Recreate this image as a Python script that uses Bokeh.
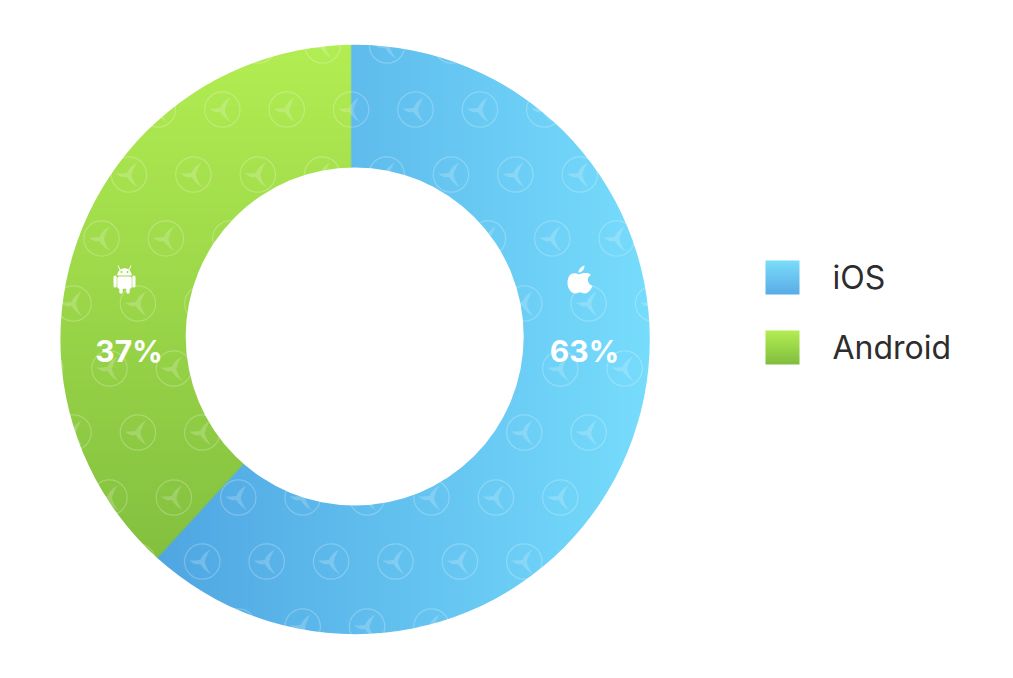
import numpy as np
from bokeh.plotting import figure
from bokeh.models import Range1d
from bokeh.core.properties import value
from bokeh.embed import file_html
from bokeh.resources import INLINE

# --- data ---
categories = ["iOS", "Android"]
labels = ["63%", "37%"]
# arc sizes as measured on the ring (the drawn split is slightly off the printed labels)
arc_shares = [61.8, 38.2]

# --- styling ---
IOS_GRAD = ((79, 166, 226), (118, 220, 252))       # left -> right
AND_GRAD = ((178, 237, 82), (131, 192, 63))        # top -> bottom
LEG_IOS = ((122, 220, 250), (90, 172, 230))
LEG_AND = ((178, 237, 82), (130, 190, 63))
MEAN = ["#64BEEE", "#9CD850"]
FONT = "Inter"
TEXT_COL = "#2d2d2d"
BASE_SHIFT = 12   # lifts the text glyphs onto the reference baselines

# page pixel -> plot coordinate (plot y points up)
W, H = 1000, 670
def Y(py):
    return 678 - np.asarray(py, dtype=float)

p = figure(width=W, height=H, x_range=Range1d(0, W), y_range=Range1d(678 - H, 678),
           output_backend="svg", toolbar_location=None, min_border=0,
           background_fill_color="white", border_fill_color="white", outline_line_color=None)
p.axis.visible = False
p.grid.visible = False

# ring geometry (reference pixels)
CX_O, CY_O, R_O = 354.6, 339.0, 294.7
CX_I, CY_I, R_I = 354.2, 336.0, 169.0
AX, AY = 350.6, 346.0   # point where the two slices meet

# --- slices, from the data ---
total = sum(arc_shares)
a_split = np.pi / 2 + arc_shares[1] / total * 2 * np.pi
p.annular_wedge(x=[AX, AX], y=[Y(AY)] * 2, inner_radius=60, outer_radius=305,
                start_angle=[a_split, np.pi / 2], end_angle=[np.pi / 2 + 2 * np.pi, a_split],
                fill_color=MEAN, line_color=None)

# --- gradient paint over the slices, split by the same angle ---
x0, x1, py0, py1 = 50, 660, 34, 644
xs = np.arange(x0, x1) + 0.5
ys = np.arange(py1, py0, -1) - 0.5     # row 0 = bottom of the image
XX, PY = np.meshgrid(xs, ys)
t_i = np.clip((XX - 159) / (649 - 159), 0, 1)[..., None]
t_a = np.clip((PY - 44) / (555 - 44), 0, 1)[..., None]
c_i = np.array(IOS_GRAD[0]) * (1 - t_i) + np.array(IOS_GRAD[1]) * t_i
c_a = np.array(AND_GRAD[0]) * (1 - t_a) + np.array(AND_GRAD[1]) * t_a
ux, uy = np.cos(a_split), np.sin(a_split)
rx, ry = XX - AX, -(PY - AY)
d = np.minimum(-rx, -(ux * ry - uy * rx))
m = np.clip(0.5 + d, 0, 1)[..., None]
rgb = c_a * m + c_i * (1 - m)
alpha = (np.hypot(XX - CX_O, PY - CY_O) < R_O + 4) * 255
img = np.dstack([rgb.round(), alpha]).astype(np.uint8)
def rgba(a):
    return a.view(np.uint32).reshape(a.shape[:2])
p.image_rgba(image=[rgba(img)], x=x0, y=float(Y(py1)), dw=x1 - x0, dh=py1 - py0)

# --- watermark ---
STEP = 64.4
rows = [(45, 129, 7), (109, 93, 9), (174, 64.1, 9), (238, 36.6, 10), (303, 8.6, 11), (368, 44.6, 10),
        (432, 8.6, 11), (497, 44.6, 10), (561, 8.6, 11), (626, 44.6, 9)]
wx, wy = [], []
for py, start, n in rows:
    for k in range(n):
        wx.append(start + k * STEP)
        wy.append(py)

def quad(a, c, b, n=10):
    t = np.linspace(0, 1, n, endpoint=False)[:, None]
    return (1 - t) ** 2 * np.array(a) + 2 * t * (1 - t) * np.array(c) + t ** 2 * np.array(b)

N1, N2, N3 = (-2, -1.5), (2.5, 0.5), (-2, 2.5)
T1, T2, T3 = (8, -12), (9, 13), (-13, -1)
sw = np.vstack([quad(N1, (0.5, -8), T1), quad(T1, (4, -6), N2), quad(N2, (4, 7), T2),
                quad(T2, (1, 8), N3), quad(N3, (-7, 4), T3), quad(T3, (-7, -1), N1)])
px_list = [list(cx + sw[:, 0]) for cx in wx]
py_list = [list(Y(cy + sw[:, 1])) for cy in wy]
p.patches(px_list, py_list, fill_color="white", fill_alpha=0.2, line_color=None)
p.circle(x=wx, y=Y(wy), radius=17.7, fill_alpha=0, line_color="white", line_alpha=0.24, line_width=1.2)

# --- white surrounds that give the ring its clean edges ---
p.annulus(x=[CX_O], y=[Y(CY_O)], inner_radius=R_O, outer_radius=335, fill_color="white", line_color=None)
p.circle(x=[CX_I], y=[Y(CY_I)], radius=R_I, fill_color="white", line_color=None)

# --- icons ---
def cubic(a, b, c, d_, n=10):
    t = np.linspace(0, 1, n, endpoint=False)[:, None]
    a, b, c, d_ = map(np.array, (a, b, c, d_))
    return (1 - t) ** 3 * a + 3 * t * (1 - t) ** 2 * b + 3 * t ** 2 * (1 - t) * c + t ** 3 * d_

apple = np.vstack([
    cubic((578.5, 274), (573, 271), (567, 273), (567, 282.5)),
    cubic((567, 282.5), (567, 288), (571, 293), (574.5, 293)),
    cubic((574.5, 293), (576.5, 293), (577, 292), (579.5, 292)),
    cubic((579.5, 292), (582, 292), (582, 293), (584.5, 293)),
    cubic((584.5, 293), (588, 293), (591, 288), (592, 285.5)),
    cubic((592, 285.5), (587, 283.5), (585.5, 277), (590.5, 274.5)),
    cubic((590.5, 274.5), (587, 271), (582, 272.5), (578.5, 274)),
])
leaf = np.vstack([cubic((578, 272), (578, 268.5), (581, 266), (584, 265)),
                  cubic((584, 265), (584, 269), (581, 272), (578, 272))])
p.patches([list(apple[:, 0]), list(leaf[:, 0])], [list(Y(apple[:, 1])), list(Y(leaf[:, 1]))],
          fill_color="white", line_color=None)

# android: head, body, arms, legs
th = np.linspace(np.pi, 0, 24)
hx, hy = 124 + 7.2 * np.cos(th), 275 - 7.2 * np.sin(th)
p.patch(list(hx), list(Y(hy)), fill_color="white", line_color=None)
qc = [(124, 282.2, 14.4, 12.2), (114.6, 281, 3.2, 12), (133.4, 281, 3.2, 12),
      (120.5, 289.5, 3.4, 7.6), (127.5, 289.5, 3.4, 7.6)]
p.rect(x=[q[0] for q in qc], y=Y([q[1] for q in qc]), width=[q[2] for q in qc], height=[q[3] for q in qc],
       fill_color="white", line_color=None, border_radius=2)
p.segment(x0=[119.5, 128.5], y0=Y([269.5, 269.5]), x1=[117.5, 130.5], y1=Y([265, 265]),
          line_color="white", line_width=1)
p.scatter(x=[121, 127], y=Y([271.5, 271.5]), size=2, fill_color="#97D74E", line_color=None)

# --- slice labels ---
p.text(x=[584, 128.5], y=Y([362 - BASE_SHIFT, 362 - BASE_SHIFT]), text=labels, text_align="center",
       text_baseline="alphabetic", text_color="white", text_font=value(FONT), text_font_style="bold",
       text_font_size="30px")

# --- legend ---
for top, (c0, c1) in zip((260, 330), (LEG_IOS, LEG_AND)):
    hh = 34
    tt = np.linspace(0, 1, hh)[:, None]   # row 0 = bottom
    col = np.array(c1) * (1 - tt) + np.array(c0) * tt
    arr = np.zeros((hh, 34, 4), dtype=np.uint8)
    arr[..., :3] = col.round()[:, None, :]
    arr[..., 3] = 255
    p.image_rgba(image=[rgba(arr)], x=765, y=float(Y(top + hh)), dw=34, dh=hh)

p.text(x=[832, 832], y=Y([288 - BASE_SHIFT + 1, 358 - BASE_SHIFT + 1]), text=categories, text_align="left",
       text_baseline="alphabetic", text_color=TEXT_COL, text_font=value(FONT), text_font_size="32px")

open("out.html", "w").write(file_html(p, INLINE))
